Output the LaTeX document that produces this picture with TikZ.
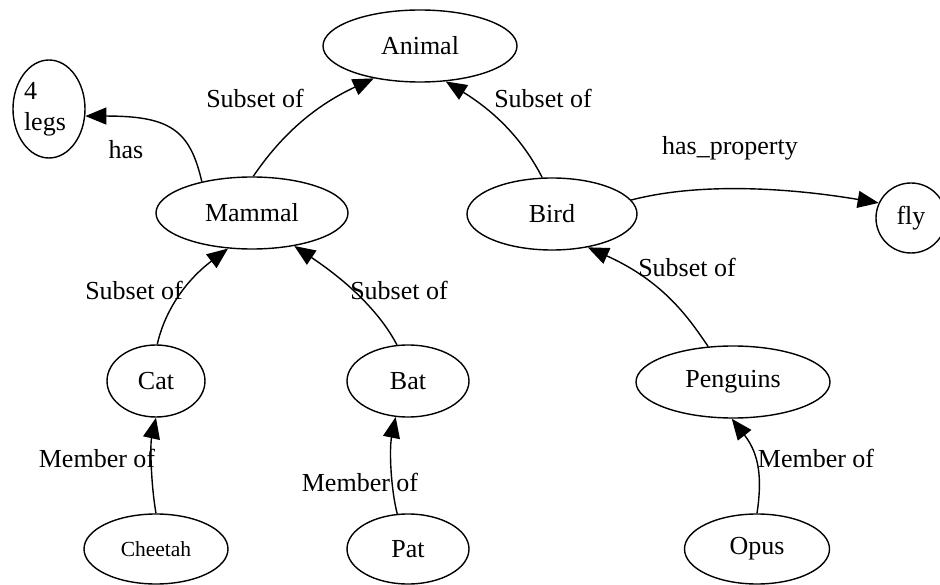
\documentclass[tikz,border=0pt]{standalone}
\usepackage{fontspec}
\setmainfont{Liberation Serif}
\usetikzlibrary{arrows.meta}
\usetikzlibrary{shapes.geometric}
\tikzset{ell/.style = {draw, ellipse, inner sep = 0, line width = 1.4pt}}
\tikzset{lbl/.style = {inner sep = 0}}
\tikzset{edge/.style = {line width = 1.4pt, -{Triangle[length = 21pt, width = 17pt]}}}

\begin{document}
\begin{tikzpicture}[x = 1pt, y = -1pt, font = \fontsize{26}{31}\selectfont]
      \useasboundingbox (0, 0) rectangle (940, 585);

      \node [ell, minimum width = 194pt, minimum height = 72pt] (animal) at (420, 46) {Animal};
      \node [ell, minimum width = 72pt, minimum height = 98pt, text width = 50pt, align = left] (legs) at (49, 109) {4\\legs};
      \node [ell, minimum width = 192pt, minimum height = 72pt] (mammal) at (252, 213) {Mammal};
      \node [ell, minimum width = 170pt, minimum height = 72pt] (bird) at (552, 214) {Bird};
      \node [ell, minimum width = 70pt, minimum height = 70pt] (fly) at (911, 218) {fly};
      \node [ell, minimum width = 98pt, minimum height = 72pt] (cat) at (156, 381) {Cat};
      \node [ell, minimum width = 122pt, minimum height = 72pt] (bat) at (408, 381) {Bat};
      \node [ell, minimum width = 194pt, minimum height = 72pt] (penguins) at (733, 382) {Penguins};
      \node [ell, minimum width = 144pt, minimum height = 70pt, font = \fontsize{21.5}{24}\selectfont] (cheetah) at (156, 549) {Cheetah};
      \node [ell, minimum width = 122pt, minimum height = 70pt] (pat) at (408, 549) {Pat};
      \node [ell, minimum width = 145pt, minimum height = 70pt] (opus) at (757, 549) {Opus};

      \draw [edge] (mammal.88) .. controls (278, 140) and (310, 108) .. (animal.215);
      \draw [edge] (bird.105) .. controls (528, 150) and (505, 118) .. (animal.306);
      \draw [edge] (mammal.148) .. controls (190, 130) and (170, 116) .. (legs.349);
      \draw [edge] (bird.10) .. controls (700, 182) and (790, 188) .. (fly.155);
      \draw [edge] (cat.88) .. controls (163, 318) and (180, 285) .. (mammal.236);
      \draw [edge] (bat.107) .. controls (385, 322) and (360, 290) .. (mammal.322);
      \draw [edge] (penguins.125) .. controls (690, 320) and (665, 282) .. (bird.317);
      \draw [edge] (cheetah.north) .. controls (151, 485) and (150, 445) .. (cat.south);
      \draw [edge] (pat.107) .. controls (391, 490) and (389, 450) .. (bat.251);
      \draw [edge] (opus.north) .. controls (762, 480) and (760, 455) .. (penguins.268);

      \node [lbl] (has) at (126, 150) {has};
      \node [lbl] (subleft) at (255, 98) {Subset of};
      \node [lbl] (subright) at (543, 98) {Subset of};
      \node [lbl] (hasprop) at (730, 148) {has\_property};
      \node [lbl] (subcat) at (134, 290) {Subset of};
      \node [lbl] (subbat) at (399, 290) {Subset of};
      \node [lbl] (subpeng) at (687, 267) {Subset of};
      \node [lbl] (memcheetah) at (97, 458) {Member of};
      \node [lbl] (mempat) at (360, 482) {Member of};
      \node [lbl] (memopus) at (816, 458) {Member of};
    \end{tikzpicture}
\end{document}
